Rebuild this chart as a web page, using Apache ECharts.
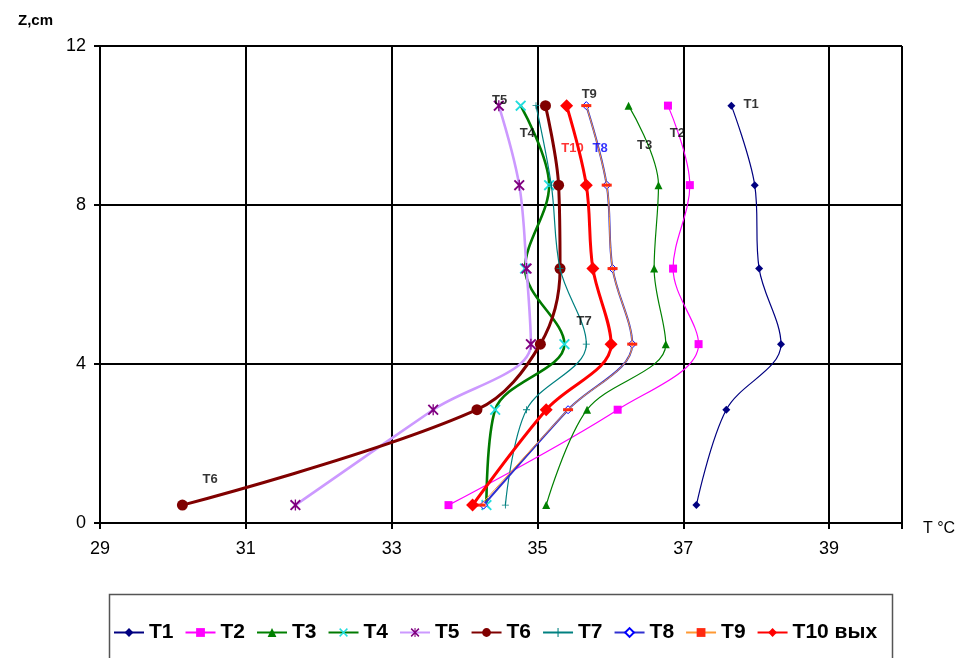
<!DOCTYPE html>
<html><head><meta charset="utf-8">
<script src="https://cdn.jsdelivr.net/npm/echarts@6/dist/echarts.min.js"></script>
<style>html,body{margin:0;padding:0;background:#fff}#c{width:955px;height:658px}</style>
</head><body><div id="c"></div>
<script>
// Heights (Z, cm)
const heights = [0.45, 2.85, 4.5, 6.4, 8.5, 10.5];
// Temperatures (°C) per series, read at each height
const T1  = [37.18, 37.59, 38.34, 38.04, 37.98, 37.66];
const T2  = [33.78, 36.10, 37.21, 36.86, 37.09, 36.79];
const T3  = [35.12, 35.68, 36.76, 36.60, 36.66, 36.25];
const T4  = [34.30, 34.42, 35.37, 34.83, 35.16, 34.77];
const T5  = [31.68, 33.57, 34.91, 34.85, 34.75, 34.47];
const T6  = [30.13, 34.17, 35.04, 35.31, 35.29, 35.11];
const T7  = [34.56, 34.85, 35.67, 35.31, 35.19, 34.98];
const T8  = [34.26, 35.42, 36.30, 36.03, 35.95, 35.67];
const T9  = [34.22, 35.42, 36.30, 36.03, 35.95, 35.67];
const T10 = [34.11, 35.12, 36.01, 35.76, 35.67, 35.40];
const seriesNames = ['T1','T2','T3','T4','T5','T6','T7','T8','T9','T10 вых'];
const seriesValues = [T1,T2,T3,T4,T5,T6,T7,T8,T9,T10];
// In-plot annotation labels
const labelTexts = ['T1','T2','T3','T4','T5','T6','T7','T8','T9','T10'];
const labelX = [37.93, 36.92, 36.47, 34.86, 34.48, 30.51, 35.64, 35.86, 35.71, 35.48];
const labelY = [10.52, 9.81, 9.51, 9.81, 10.64, 1.10, 5.06, 9.43, 10.79, 9.43];
const xTicks = [29, 31, 33, 35, 37, 39];
const yTicks = [0, 4, 8, 12];

const X_PATH = 'path://M0,1.2L1.2,0L5,3.8L8.8,0L10,1.2L6.2,5L10,8.8L8.8,10L5,6.2L1.2,10L0,8.8L3.8,5Z';
const STAR_PATH = 'path://M0,1.2L1.2,0L5,3.8L8.8,0L10,1.2L6.2,5L10,8.8L8.8,10L5,6.2L1.2,10L0,8.8L3.8,5Z M4.4,0L5.6,0L5.6,10L4.4,10Z';
const PLUS_PATH = 'path://M4.4,0H5.6V4.4H10V5.6H5.6V10H4.4V5.6H0V4.4H4.4Z';
const DASH_PATH = 'path://M0,0H10V3H0Z';

const styles = [
  {line:'#000080', w:1.2, sym:'diamond', size:8, fill:'#000080'},
  {line:'#ff00ff', w:1.2, sym:'rect', size:8, fill:'#ff00ff'},
  {line:'#008000', w:1.2, sym:'triangle', size:8, fill:'#008000'},
  {line:'#007a00', w:2.6, sym:X_PATH, size:11, fill:'#22dddd'},
  {line:'#cc99ff', w:2.6, sym:STAR_PATH, size:11, fill:'#800080'},
  {line:'#800000', w:3, sym:'circle', size:11, fill:'#800000'},
  {line:'#008080', w:1.2, sym:PLUS_PATH, size:7, fill:'#008080'},
  {line:'#3030d0', w:2, sym:'diamond', size:8, fill:'#ffffff', border:'#0000ff'},
  {line:'#ff9933', w:1, sym:DASH_PATH, size:10, fill:'#ff2a10', keep:true},
  {line:'#ff0000', w:3, sym:'diamond', size:13, fill:'#ff0000'}
];

const series = seriesNames.map((name, i) => {
  const s = styles[i];
  return {
    name: name, type: 'line', smooth: 0.35,
    data: heights.map((h, k) => [seriesValues[i][k], h]),
    symbol: s.sym, symbolSize: s.size, showSymbol: true, symbolKeepAspect: !!s.keep,
    lineStyle: {color: s.line, width: s.w},
    itemStyle: {color: s.fill, borderColor: s.border || s.fill, borderWidth: s.border ? 1 : 0},
    emphasis: {disabled: true}, animation: false, z: 3 + i
  };
});
const labelSeries = {
  name: 'labels', type: 'scatter', symbolSize: 0, silent: true, animation: false, z: 20,
  data: labelTexts.map((t, i) => ({
    value: [labelX[i], labelY[i]], name: t,
    label: {color: t === 'T10' ? '#ff0000' : (t === 'T8' ? '#0000ff' : '#000000')}
  })),
  label: {
    show: true, position: 'inside', formatter: p => p.name,
    fontFamily: "'Liberation Sans',Arial", fontWeight: 'bold', fontSize: 13
  }
};
series.push(labelSeries);

const chart = echarts.init(document.getElementById('c'), null, {renderer: 'canvas'});
chart.setOption({
  backgroundColor: '#ffffff',
  animation: false,
  title: [
    {text: 'Z,cm', left: 13, top: 8, textStyle: {fontFamily: "'Liberation Sans',Arial", fontSize: 15, fontWeight: 'bold', color: '#000'}},
    {text: 'T °C', left: 918, top: 516, textStyle: {fontFamily: "'Liberation Sans',Arial", fontSize: 16, fontWeight: 'normal', color: '#000'}}
  ],
  grid: {left: 100, right: 53, top: 46, bottom: 135},
  xAxis: {
    type: 'value', min: 29, max: 40, interval: 2,
    axisLine: {show: true, onZero: false, lineStyle: {color: '#000', width: 2}},
    axisTick: {show: true, length: 6, lineStyle: {color: '#000', width: 2}},
    splitLine: {show: true, lineStyle: {color: '#000', width: 2}},
    axisLabel: {
      margin: 17, fontFamily: "'Liberation Sans',Arial", fontSize: 18, color: '#000',
      formatter: v => (xTicks.indexOf(v) >= 0 ? String(v) : '')
    }
  },
  yAxis: {
    type: 'value', min: 0, max: 12, interval: 4,
    axisLine: {show: true, onZero: false, lineStyle: {color: '#000', width: 2}},
    axisTick: {show: true, length: 6, lineStyle: {color: '#000', width: 2}},
    splitLine: {show: true, lineStyle: {color: '#000', width: 2}},
    axisLabel: {
      margin: 14, fontFamily: "'Liberation Sans',Arial", fontSize: 18, color: '#000',
      formatter: v => (yTicks.indexOf(v) >= 0 ? String(v) : '')
    }
  },
  legend: {
    data: seriesNames, left: 108, top: 617, itemWidth: 30, itemHeight: 11, itemGap: 11,
    symbolKeepAspect: true,
    textStyle: {fontFamily: "'Liberation Sans',Arial", fontWeight: 'bold', fontSize: 21, color: '#000'},
    selectedMode: false
  },
  graphic: [{
    type: 'rect', left: 107, top: 592, shape: {width: 783, height: 80},
    style: {fill: 'none', stroke: '#555', lineWidth: 1.5}, silent: true, z: -1
  }],
  series: series
});
</script></body></html>
